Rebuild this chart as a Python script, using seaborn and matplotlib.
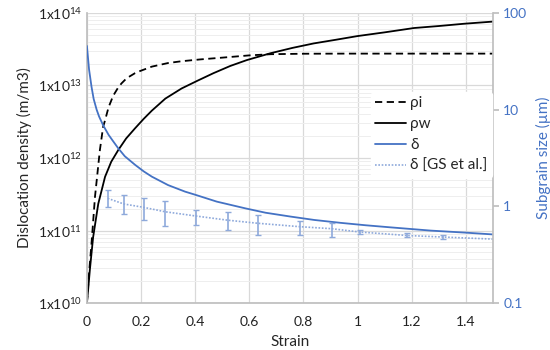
import numpy as np
import pandas as pd
import matplotlib
matplotlib.use("Agg")
import matplotlib.pyplot as plt
import seaborn as sns
from matplotlib.lines import Line2D

# values
strain_i = [0.0, 0.008, 0.017, 0.030, 0.048, 0.06, 0.067, 0.08, 0.097, 0.115, 0.128, 0.147, 0.178,
            0.196, 0.24, 0.3, 0.35, 0.42, 0.50, 0.6, 0.68, 0.8, 0.96, 1.2, 1.5]
rho_i = [1.0e10, 2.6e10, 6.6e10, 2.95e11, 1.29e12, 2.7e12, 3.3e12, 5.0e12, 7.2e12, 9.3e12,
         1.07e13, 1.26e13, 1.48e13, 1.58e13, 1.82e13, 2.04e13, 2.16e13, 2.29e13, 2.42e13,
         2.6e13, 2.7e13, 2.74e13, 2.75e13, 2.75e13, 2.75e13]

strain_w = [0.0, 0.005, 0.011, 0.023, 0.042, 0.067, 0.09, 0.116, 0.145, 0.178, 0.21, 0.24, 0.29,
            0.35, 0.41, 0.468, 0.53, 0.591, 0.678, 0.76, 0.838, 0.92, 1.0, 1.1, 1.209, 1.3,
            1.394, 1.5]
rho_w = [1.0e10, 1.6e10, 2.9e10, 8.1e10, 2.34e11, 5.5e11, 8.9e11, 1.29e12, 1.86e12, 2.57e12,
         3.47e12, 4.5e12, 6.6e12, 9.1e12, 1.17e13, 1.48e13, 1.86e13, 2.24e13, 2.78e13, 3.3e13,
         3.8e13, 4.27e13, 4.8e13, 5.4e13, 6.2e13, 6.6e13, 7.1e13, 7.6e13]

strain_d = [0.0, 0.008, 0.017, 0.025, 0.036, 0.045, 0.06, 0.08, 0.095, 0.116, 0.14, 0.178, 0.21,
            0.24, 0.3, 0.363, 0.40, 0.48, 0.585, 0.66, 0.752, 0.84, 0.937, 1.03, 1.122, 1.27,
            1.4, 1.5]
delta = [45.6, 26.0, 17.3, 12.9, 10.0, 8.5, 6.9, 5.5, 4.8, 3.98, 3.3, 2.69, 2.3, 2.03, 1.66,
         1.42, 1.32, 1.12, 0.955, 0.86, 0.785, 0.724, 0.676, 0.638, 0.607, 0.562, 0.535, 0.513]

strain_gs = [0.077, 0.136, 0.21, 0.289, 0.403, 0.52, 0.634, 0.789, 0.904, 1.009, 1.184, 1.316]
delta_gs = [1.21, 1.06, 0.977, 0.88, 0.795, 0.72, 0.668, 0.616, 0.588, 0.543, 0.50, 0.482]
gs_top = [1.476, 1.32, 1.23, 1.13, 0.923, 0.867, 0.807, 0.705, 0.677, 0.565, 0.53, 0.51]
gs_bottom = [0.977, 0.828, 0.718, 0.622, 0.637, 0.565, 0.51, 0.51, 0.479, 0.518, 0.479, 0.459]
gs_end_strain = 1.5
gs_end_delta = 0.459

x_ticks = [0, 0.2, 0.4, 0.6, 0.8, 1.0, 1.2, 1.4]
x_labels = ["0", "0.2", "0.4", "0.6", "0.8", "1", "1.2", "1.4"]
left_ticks = [1e10, 1e11, 1e12, 1e13, 1e14]
left_labels = [r"1x10$^{10}$", r"1x10$^{11}$", r"1x10$^{12}$", r"1x10$^{13}$", r"1x10$^{14}$"]
right_ticks = [0.1, 1, 10, 100]
right_labels = ["0.1", "1", "10", "100"]

blue = "#4472C4"
light_blue = "#8EA9DB"
grid_c = "#D9D9D9"

sns.set_theme(style="white")
plt.rcParams["font.family"] = ["Lato", "DejaVu Sans"]
plt.rcParams["mathtext.fontset"] = "custom"
plt.rcParams["mathtext.rm"] = "Lato"
plt.rcParams["mathtext.it"] = "Lato:italic"

fig = plt.figure(figsize=(5.5, 3.5), dpi=100)
ax = fig.add_axes([0.158, 0.134, 0.738, 0.829])
ax2 = ax.twinx()

df_i = pd.DataFrame({"strain": strain_i, "rho": rho_i})
df_w = pd.DataFrame({"strain": strain_w, "rho": rho_w})
df_d = pd.DataFrame({"strain": strain_d, "delta": delta})
df_gs = pd.DataFrame({"strain": strain_gs + [gs_end_strain], "delta": delta_gs + [gs_end_delta]})

sns.lineplot(data=df_i, x="strain", y="rho", ax=ax, color="black", lw=1.3,
             linestyle=(0, (4, 2.5)), estimator=None, sort=False)
sns.lineplot(data=df_w, x="strain", y="rho", ax=ax, color="black", lw=1.3,
             estimator=None, sort=False)
sns.lineplot(data=df_d, x="strain", y="delta", ax=ax2, color=blue, lw=1.3,
             estimator=None, sort=False)
sns.lineplot(data=df_gs, x="strain", y="delta", ax=ax2, color=light_blue, lw=1.2,
             linestyle=(0, (1, 1)), estimator=None, sort=False)

gs_c = np.array(delta_gs)
yerr = [gs_c - np.array(gs_bottom), np.array(gs_top) - gs_c]
ax2.errorbar(strain_gs, delta_gs, yerr=yerr, fmt="none", ecolor=light_blue,
             elinewidth=1.2, capsize=2.5, capthick=1.0)

ax.set_yscale("log")
ax2.set_yscale("log")
ax.set_xlim(0, 1.5)
ax.set_ylim(1e10, 1e14)
ax2.set_ylim(0.1, 100)

ax.set_xticks(x_ticks)
ax.set_xticklabels(x_labels, fontsize=10, color="#222222")
ax.set_yticks(left_ticks)
ax.set_yticklabels(left_labels, fontsize=10, color="#222222")
ax2.set_yticks(right_ticks)
ax2.set_yticklabels(right_labels, fontsize=10, color=blue)
ax2.yaxis.set_minor_formatter(matplotlib.ticker.NullFormatter())
ax2.tick_params(axis="y", which="major", length=4, color="#BFBFBF", direction="out", right=True)
ax2.tick_params(axis="y", which="minor", length=0)
ax.tick_params(axis="both", which="both", length=0)
ax.tick_params(axis="x", pad=9)

ax.grid(True, which="major", axis="both", color=grid_c, lw=0.9)
ax.grid(True, which="minor", axis="y", color="#EEEEEE", lw=0.7)
ax.set_axisbelow(True)

for a in (ax, ax2):
    for s in a.spines.values():
        s.set_visible(False)
for name in ("left", "bottom"):
    ax.spines[name].set_visible(True)
    ax.spines[name].set_color("#BFBFBF")
ax2.spines["right"].set_visible(True)
ax2.spines["right"].set_color("#BFBFBF")

ax.set_xlabel("Strain", fontsize=11, labelpad=5)
ax.set_ylabel("Dislocation density (m/m3)", fontsize=11, labelpad=4)
ax2.set_ylabel("Subgrain size (µm)", fontsize=11, color=blue, labelpad=6)

handles = [
    Line2D([], [], color="black", lw=1.3, linestyle=(0, (4, 2.5))),
    Line2D([], [], color="black", lw=1.3),
    Line2D([], [], color=blue, lw=1.3),
    Line2D([], [], color=light_blue, lw=1.2, linestyle=(0, (1, 1))),
]
labels = ["ρi", "ρw", "δ", "δ [GS et al.]"]
leg = ax2.legend(handles, labels, loc="upper left", bbox_to_anchor=(0.68, 0.755),
                 frameon=True, fontsize=11, handlelength=2.0, handletextpad=0.3,
                 labelspacing=0.45, borderpad=0.3)
leg.get_frame().set_facecolor("white")
leg.get_frame().set_edgecolor("white")
leg.get_frame().set_alpha(1.0)

fig.savefig("out.png", dpi=100)
